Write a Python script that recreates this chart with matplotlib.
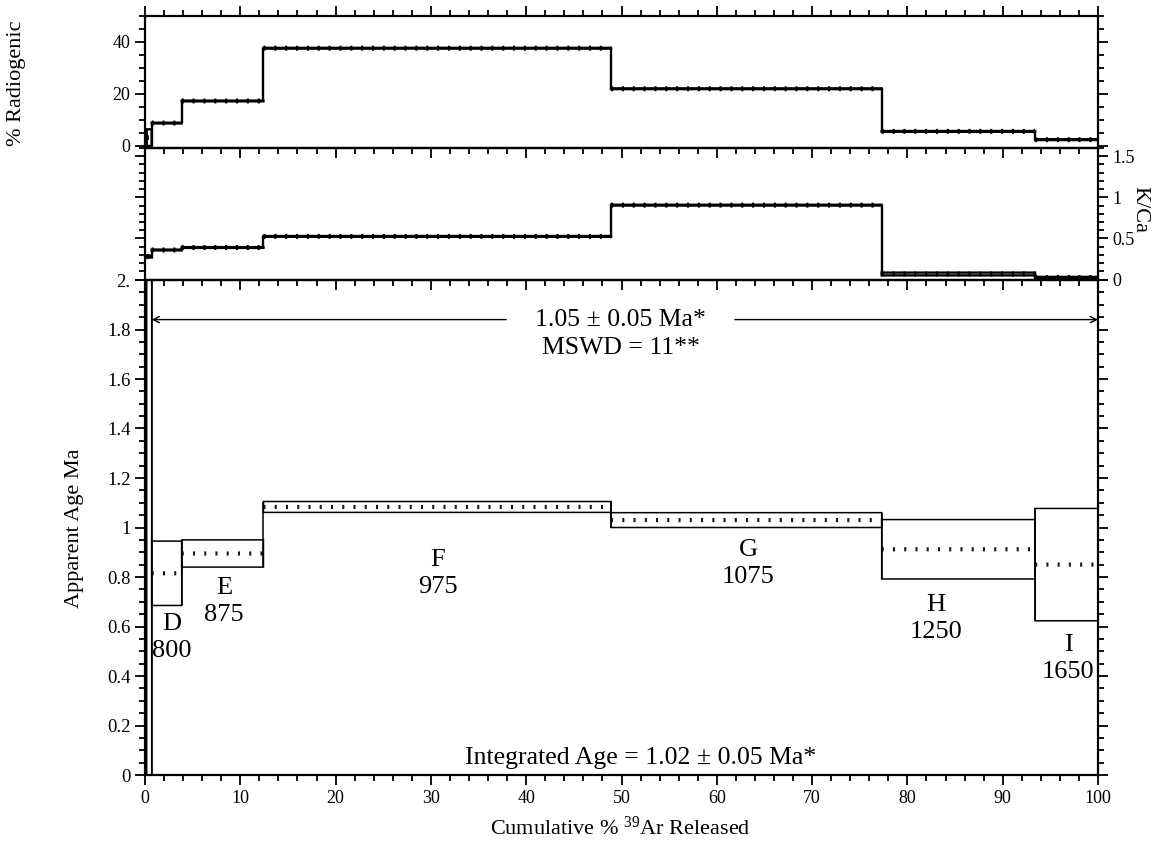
import matplotlib
matplotlib.use("Agg")
import matplotlib.pyplot as plt
from matplotlib.patches import Rectangle
from matplotlib.ticker import MultipleLocator, FuncFormatter

plt.rcParams["font.family"] = ["Liberation Serif", "DejaVu Serif"]
plt.rcParams["mathtext.fontset"] = "custom"
plt.rcParams["mathtext.rm"] = "Liberation Serif"
plt.rcParams["mathtext.it"] = "Liberation Serif:italic"

# ── step heating data ────────────────────────────────────────────────────
# step boundaries (cumulative % 39Ar released)
cum_39ar = [0.18, 0.7, 3.85, 12.43, 48.9, 77.3, 93.4, 100.0]
step_names = ["", "D", "E", "F", "G", "H", "I"]
step_temps = ["", "800", "875", "975", "1075", "1250", "1650"]

radiogenic = [3.2, 8.8, 17.3, 37.6, 22.0, 5.6, 2.4]
radiogenic_err = [3.2, 0.15, 0.15, 0.15, 0.15, 0.15, 0.15]

k_ca = [0.28, 0.36, 0.39, 0.525, 0.905, 0.068, 0.025]
k_ca_err = [0.012, 0.005, 0.005, 0.005, 0.005, 0.017, 0.008]

age = [-0.5, 0.815, 0.895, 1.083, 1.03, 0.912, 0.85]
age_err = [2.8, 0.13, 0.055, 0.022, 0.03, 0.12, 0.227]

plateau_age, plateau_err, mswd = 1.05, 0.05, 11
integrated_age, integrated_err = 1.02, 0.05
plateau_first_step = 1

# label anchors for the step names (data coords, bottom panel)
label_xy = [None, (2.8, 0.555), (8.3, 0.70), (30.7, 0.815),
            (63.3, 0.855), (83.0, 0.634), (96.85, 0.47)]

W, H = 1167, 846
fig = plt.figure(figsize=(W / 100, H / 100), dpi=100)


def frac(left, top, right, bottom):
    return [left / W, 1 - bottom / H, (right - left) / W, (bottom - top) / H]


ax_rad = fig.add_axes(frac(145, 16, 1098, 148))
ax_kca = fig.add_axes(frac(145, 148, 1098, 280))
ax_age = fig.add_axes(frac(145, 280, 1098, 775))


def draw_spectrum(ax, vals, errs, box_lw, dot_lw, dash, dot_color):
    lo = [v - e for v, e in zip(vals, errs)]
    hi = [v + e for v, e in zip(vals, errs)]
    for i in range(len(vals)):
        x0, x1 = cum_39ar[i], cum_39ar[i + 1]
        ax.add_patch(Rectangle((x0, lo[i]), x1 - x0, hi[i] - lo[i],
                               fill=False, ec="k", lw=box_lw, snap=False))
        ax.plot([x0, x1], [vals[i], vals[i]], color=dot_color, lw=dot_lw,
                linestyle=dash, dash_capstyle="butt", snap=False)
    for i in range(len(vals) - 1):
        ax.vlines(cum_39ar[i + 1], min(lo[i], lo[i + 1]),
                  max(hi[i], hi[i + 1]), color="k", lw=box_lw)


draw_spectrum(ax_rad, radiogenic, radiogenic_err, 1.7, 3.6,
              (0, (0.42, 1.75)), "k")
draw_spectrum(ax_kca, k_ca, k_ca_err, 1.7, 3.6, (0, (0.42, 1.75)), "k")
draw_spectrum(ax_age, age, age_err, 1.1, 3.0, (0, (0.5, 2.2)), "#1a1a1a")

for ax in (ax_rad, ax_kca, ax_age):
    ax.set_xlim(0, 100)
    ax.xaxis.set_major_locator(MultipleLocator(10))
    ax.xaxis.set_minor_locator(MultipleLocator(2))
    for sp in ax.spines.values():
        sp.set_linewidth(1.6)
    ax.tick_params(which="both", direction="out", width=1.3,
                   left=True, right=True, bottom=True, top=False,
                   labelbottom=False, labelleft=False, labelright=False)
    ax.tick_params(which="major", length=7, labelsize=13)
    ax.tick_params(which="minor", length=4)
    ax.set_facecolor("none")

# % radiogenic
ax_rad.set_ylim(-0.8, 50)
ax_rad.yaxis.set_major_locator(MultipleLocator(20))
ax_rad.yaxis.set_minor_locator(MultipleLocator(5))
ax_rad.tick_params(which="both", top=True, labelleft=True)

# K/Ca
ax_kca.set_ylim(-0.005, 1.6)
ax_kca.yaxis.set_major_locator(MultipleLocator(0.5))
ax_kca.yaxis.set_minor_locator(MultipleLocator(0.1))
ax_kca.yaxis.set_major_formatter(FuncFormatter(lambda v, p: f"{v:g}"))
ax_kca.tick_params(labelright=True)

# apparent age
ax_age.set_ylim(0, 2.0)
ax_age.yaxis.set_major_locator(MultipleLocator(0.2))
ax_age.yaxis.set_minor_locator(MultipleLocator(0.05))


def age_fmt(v, pos):
    if abs(v - 2.0) < 1e-6:
        return "2."
    return f"{round(v, 2):g}"


ax_age.yaxis.set_major_formatter(FuncFormatter(age_fmt))
ax_age.tick_params(labelleft=True, labelbottom=True)
ax_age.tick_params(axis="y", labelsize=13.5)

# plateau arrow, broken around the label
arrow_y = 1.84
arrow_kw = dict(arrowstyle="->", lw=1.0, color="k", shrinkA=0, shrinkB=0,
                mutation_scale=11)
ax_age.annotate("", xy=(cum_39ar[plateau_first_step], arrow_y),
                xytext=(37.9, arrow_y), arrowprops=arrow_kw)
ax_age.annotate("", xy=(cum_39ar[-1], arrow_y),
                xytext=(61.9, arrow_y), arrowprops=arrow_kw)
ax_age.text(49.9, arrow_y, f"{plateau_age:.2f} \u00b1 {plateau_err:.2f} Ma*",
            ha="center", va="center", fontsize=18.5)
ax_age.text(49.9, 1.725, f"MSWD = {mswd}**", ha="center", va="center",
            fontsize=18.5)
ax_age.text(52.0, 0.07,
            f"Integrated Age = {integrated_age:.2f} \u00b1 {integrated_err:.2f} Ma*",
            ha="center", va="center", fontsize=18.5)

for name, temp, xy in zip(step_names, step_temps, label_xy):
    if not name:
        continue
    ax_age.text(xy[0], xy[1], f"{name}\n{temp}", ha="center", va="center",
                fontsize=19, linespacing=1.3)

fig.text(17 / W, 1 - 83 / H, "% Radiogenic", rotation=90, ha="center",
         va="center", fontsize=16)
fig.text(75 / W, 1 - 528 / H, "Apparent Age Ma", rotation=90, ha="center",
         va="center", fontsize=16)
fig.text(1140 / W, 1 - 209 / H, "K/Ca", rotation=270, ha="center",
         va="center", fontsize=16)
fig.text(620 / W, 1 - 828 / H, r"Cumulative % $^{39}$Ar Released",
         ha="center", va="center", fontsize=16)

fig.savefig("out.png", dpi=100)
